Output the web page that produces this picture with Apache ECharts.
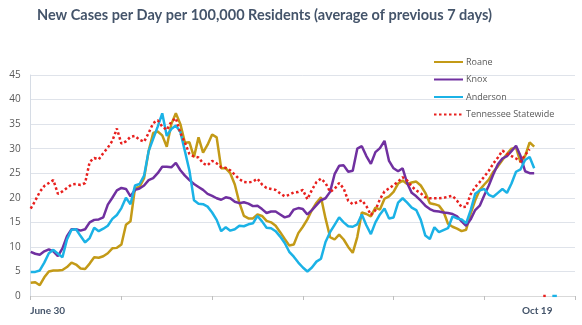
<!DOCTYPE html>
<html><head><meta charset="utf-8">
<script src="https://cdn.jsdelivr.net/npm/echarts@6/dist/echarts.min.js"></script>
<style>html,body{margin:0;padding:0;background:#fff}#c{width:582px;height:325px}</style>
</head><body><div id="c"></div>
<script>
const titleText = 'New Cases per Day per 100,000 Residents (average of previous 7 days)';
const monthNames = ['Jan','Feb','Mar','Apr','May','June','July','Aug','Sept','Oct','Nov','Dec'];
const dayCount = 121;
const shownLabels = [0, 111];
const yTicks = {min: 0, max: 45, interval: 5};

const roane = [2.7,2.8,2.2,3.8,5.0,5.2,5.2,5.3,5.9,6.8,
 6.4,5.6,5.5,6.6,7.9,7.8,8.1,8.7,9.7,9.8,
 10.5,14.5,15.2,22.0,22.2,24.0,29.5,33.2,33.5,32.7,
 30.4,35.0,37.2,35.0,31.2,31.3,28.3,32.3,29.2,30.8,
 32.9,32.3,26.0,26.0,25.0,22.7,19.0,16.3,15.8,15.8,
 16.6,16.3,15.3,15.0,14.3,13.0,11.6,10.3,10.5,12.8,
 14.1,15.6,17.5,19.0,20.1,15.8,12.0,11.5,12.5,11.5,
 10.0,8.8,12.0,17.0,16.7,16.2,18.0,17.6,19.8,20.3,
 21.2,22.9,23.5,22.8,23.1,23.3,22.5,21.0,18.9,18.7,
 18.4,17.2,14.7,14.1,13.7,13.2,13.5,16.8,19.5,21.6,
 22.7,23.7,25.3,26.4,27.7,28.9,30.0,30.2,27.2,28.5,
 31.3,30.4];

const knox = [9.0,8.6,8.4,9.1,9.5,9.1,8.1,9.7,12.2,13.6,
 13.6,13.3,13.6,15.0,15.5,15.6,16.0,18.6,20.0,21.5,
 22.0,21.8,20.3,21.6,21.9,22.5,23.6,24.0,25.0,26.3,
 26.3,26.2,27.1,25.6,24.5,23.6,22.8,22.2,21.6,20.8,
 20.4,19.9,19.6,20.1,19.9,19.2,18.9,19.1,18.8,18.3,
 18.4,17.7,16.9,17.2,17.2,16.6,16.0,16.3,17.6,17.9,
 17.7,16.6,17.5,18.5,19.5,19.9,21.2,24.8,26.5,26.6,
 25.3,25.5,30.0,30.5,28.5,26.9,29.3,30.1,31.6,27.5,
 26.0,25.4,26.0,23.0,21.0,20.3,19.4,18.4,17.7,17.3,
 17.2,17.0,16.9,16.7,16.2,15.2,14.3,15.6,17.5,18.4,
 20.5,22.5,24.8,26.8,28.0,28.5,29.5,30.6,28.5,25.4,
 25.0,25.0];

const anderson = [4.9,4.9,5.2,6.8,8.7,9.4,8.6,7.9,11.5,13.5,
 13.6,12.2,10.9,11.8,13.9,13.2,13.7,14.3,15.7,16.5,
 17.9,20.0,18.7,22.5,22.8,24.5,29.5,32.0,34.5,37.2,
 32.6,34.0,34.7,33.4,29.5,25.5,19.5,18.8,18.7,18.2,
 17.0,15.5,13.2,14.0,13.3,13.6,14.3,14.2,14.6,14.8,
 16.3,15.2,13.9,13.8,13.2,12.1,10.8,9.0,8.0,6.8,
 5.8,5.0,5.8,7.0,7.6,11.0,13.0,14.5,16.0,15.0,
 14.2,14.1,14.6,16.6,14.4,12.6,15.0,16.6,17.8,15.8,
 16.0,19.0,19.9,19.0,18.0,17.5,15.5,12.3,11.6,14.0,
 13.0,13.4,13.8,16.2,15.8,15.6,14.8,17.5,20.8,21.5,
 21.8,20.6,20.2,21.0,21.8,21.0,22.9,25.3,25.8,27.7,
 28.3,26.0,null,null,null,0,0];

const statewide = [17.8,19.4,21.2,22.4,23.0,23.6,20.8,21.3,22.0,22.7,
 22.8,22.6,23.0,27.3,28.1,27.8,29.1,30.2,31.6,34.1,
 31.0,31.5,32.4,32.6,31.8,31.4,33.2,35.2,35.8,34.5,
 33.8,35.5,36.2,33.2,31.2,28.9,28.4,28.2,27.0,26.6,
 27.5,27.0,26.2,26.1,25.6,24.7,23.8,23.2,23.1,23.3,
 23.9,22.7,22.0,21.8,21.6,20.9,20.3,20.6,21.1,21.2,
 21.6,19.7,21.6,23.2,23.9,23.0,21.2,21.8,23.0,21.9,
 19.4,18.7,19.1,19.5,18.3,16.5,17.5,19.7,21.3,21.9,
 22.6,23.3,24.2,23.5,22.3,21.5,20.9,20.1,19.9,19.9,
 19.9,20.0,20.2,20.4,19.4,18.1,18.2,20.7,22.2,23.2,
 24.3,25.5,27.0,28.2,29.6,29.0,28.5,28.0,27.4,28.7,
 29.9,null,null,0,0];

const seriesNames = ['Roane','Knox','Anderson','Tennessee Statewide'];
const seriesColors = ['#c39a17','#7030a0','#1bb2e6','#e8201e'];

const categories = [];
for (let i = 0; i < dayCount; i++) {
  const d = new Date(2020, 5, 30 + i);
  categories.push(monthNames[d.getMonth()] + ' ' + d.getDate());
}

const chart = echarts.init(document.getElementById('c'));
const seriesData = [roane, knox, anderson, statewide];
chart.setOption({
  animation: false,
  title: {
    text: titleText, left: 37, top: 8, padding: 0,
    textStyle: {fontFamily: 'Lato', fontWeight: 'bold', fontSize: 14.5, color: '#44546a'}
  },
  legend: {
    orient: 'vertical', left: 433, top: 57.5, padding: 0,
    itemWidth: 29, itemHeight: 10, itemGap: 8.5,
    itemStyle: {color: 'rgba(0,0,0,0)', borderColor: 'rgba(0,0,0,0)', borderWidth: 0},
    textStyle: {fontFamily: 'Open Sans', fontSize: 9, color: '#595959', padding: [0,0,0,-2]},
    data: seriesNames
  },
  grid: {left: 30.7, right: 7, top: 75, bottom: 29, containLabel: false},
  xAxis: {
    type: 'category', data: categories, boundaryGap: false,
    axisLine: {lineStyle: {color: '#d9d9d9', width: 1}},
    axisTick: {show: true, length: 4, interval: (i) => i % 20 === 0, lineStyle: {color: '#bfbfbf'}},
    axisLabel: {
      interval: (i) => shownLabels.indexOf(i) >= 0,
      margin: 10,
      formatter: (v, i) => i === 0 ? '{a|' + v + '}' : '{b|' + v + '}',
      rich: {
        a: {fontFamily: 'Lato', fontWeight: 'bold', fontSize: 10, color: '#44546a', padding: [0,0,0,34]},
        b: {fontFamily: 'Lato', fontWeight: 'bold', fontSize: 10, color: '#44546a', padding: [0,0,0,6]}
      }
    },
    splitLine: {show: false}
  },
  yAxis: {
    type: 'value', min: yTicks.min, max: yTicks.max, interval: yTicks.interval,
    axisLine: {show: true, lineStyle: {color: '#d6dce5'}},
    axisTick: {show: false},
    axisLabel: {fontFamily: 'Open Sans', fontSize: 10, color: '#595959', margin: 10},
    splitLine: {lineStyle: {color: '#dfe3ea', width: 1}}
  },
  series: seriesNames.map((n, k) => ({
    name: n, type: 'line', data: seriesData[k], showSymbol: false, symbol: 'none',
    color: seriesColors[k],
    lineStyle: k === 3 ? {width: 2.5, color: seriesColors[k], type: [2.5, 2.5], cap: 'butt'}
                       : {width: 2.5, color: seriesColors[k]},
    z: k === 3 ? 5 : 2 + k
  }))
});
</script></body></html>
